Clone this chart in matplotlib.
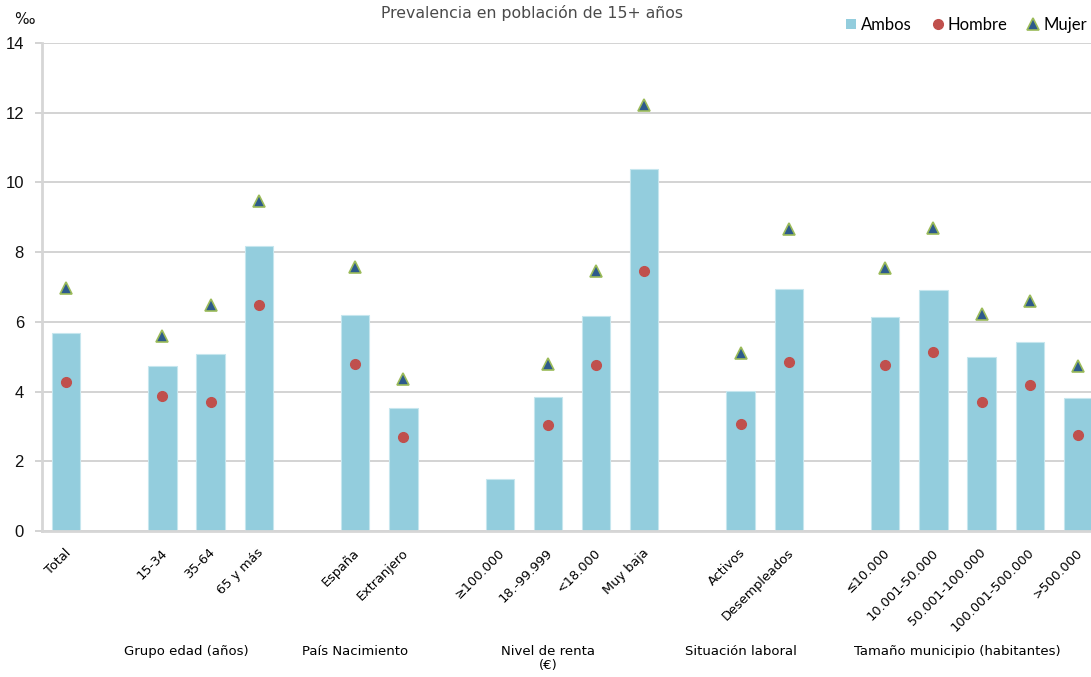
import numpy as np
import matplotlib
matplotlib.use("Agg")
import matplotlib.pyplot as plt
from matplotlib.lines import Line2D
from matplotlib.patches import Patch
import matplotlib.transforms as mtransforms

# groups of categories (an empty slot is left before every group except the first)
group_names = ["", "Grupo edad (años)", "País Nacimiento", "Nivel de renta\n(€)",
               "Situación laboral", "Tamaño municipio (habitantes)"]
group_members = [
    ["Total"],
    ["15-34", "35-64", "65 y más"],
    ["España", "Extranjero"],
    ["≥100.000", "18.-99.999", "<18.000", "Muy baja"],
    ["Activos", "Desempleados"],
    ["≤10.000", "10.001-50.000", "50.001-100.000", "100.001-500.000", ">500.000"],
]

# prevalencia (por mil)
ambos = [5.68, 4.73, 5.08, 8.18, 6.21, 3.53, 1.48, 3.84, 6.17, 10.38,
         4.02, 6.95, 6.14, 6.92, 5.00, 5.43, 3.82]
hombre = [4.28, 3.87, 3.71, 6.49, 4.78, 2.69, np.nan, 3.04, 4.77, 7.47,
          3.08, 4.86, 4.77, 5.13, 3.69, 4.20, 2.75]
mujer = [6.97, 5.60, 6.47, 9.48, 7.58, 4.35, np.nan, 4.78, 7.45, 12.21,
         5.12, 8.67, 7.54, 8.68, 6.22, 6.60, 4.74]

yticks = [0, 2, 4, 6, 8, 10, 12, 14]

# build the category axis with blank slots between groups
categories = []
group_span = []
for gi, members in enumerate(group_members):
    start = len(categories)
    if gi > 0:
        categories.append("")
    categories.extend(members)
    group_span.append((start, len(categories) - 1))

val_a, val_h, val_m = [], [], []
k = 0
for c in categories:
    if c == "":
        val_a.append(np.nan); val_h.append(np.nan); val_m.append(np.nan)
    else:
        val_a.append(ambos[k]); val_h.append(hombre[k]); val_m.append(mujer[k])
        k += 1

x = np.arange(len(categories))

fig = plt.figure(figsize=(10.91, 6.77), dpi=100)
ax = fig.add_axes([42 / 1091, 146 / 677, 1060 / 1091, 488 / 677])

ax.bar(x, val_a, width=0.59, color="#93CDDD", edgecolor="#C6E6EE", linewidth=0.8, zorder=2)
ax.plot(x, val_h, linestyle="none", marker="o", markersize=7, color="#C0504D", zorder=3)
ax.plot(x, val_m, linestyle="none", marker="^", markersize=8, markerfacecolor="#2D5A8C",
        markeredgecolor="#9BBB59", markeredgewidth=1.2, zorder=3)

ax.set_xlim(-0.5, len(categories) - 0.5)
ax.set_ylim(0, 14)
ax.set_yticks(yticks)
ax.set_yticklabels([str(t) for t in yticks], fontsize=12,
                   family=["Liberation Sans Narrow", "Liberation Sans"], color="#111111")
ax.yaxis.grid(True, color="#C8C8C8", linewidth=1.1, zorder=0)
ax.set_axisbelow(True)
ax.tick_params(axis="y", length=5, color="#C8C8C8", width=1.1, pad=8)

ax.set_xticks(x)
ax.set_xticklabels(categories, rotation=45, ha="right", rotation_mode="anchor",
                   fontsize=9.3, family="DejaVu Sans", color="#000000")
ax.tick_params(axis="x", length=0, pad=8)
shift = mtransforms.ScaledTranslation(-2 / 100, -4 / 100, fig.dpi_scale_trans)
for lab in ax.get_xticklabels():
    lab.set_transform(lab.get_transform() + shift)

for s in ["top", "right"]:
    ax.spines[s].set_visible(False)
ax.spines["left"].set_color("#D6D6D6")
ax.spines["left"].set_linewidth(2)
ax.spines["bottom"].set_color("#D6D6D6")
ax.spines["bottom"].set_linewidth(2)

# group labels under the categories
trans = mtransforms.blended_transform_factory(ax.transData, fig.transFigure)
for name, (a, b) in zip(group_names, group_span):
    if name:
        ax.text((a + b) / 2, 1 - 645 / 677, name, transform=trans, ha="center", va="top",
                fontsize=9.5, family="DejaVu Sans", color="#000000", linespacing=1.15)

fig.text(532 / 1091, 1 - 13 / 677, "Prevalencia en población de 15+ años", ha="center",
         va="center", fontsize=11.3, family="DejaVu Sans", color="#4a4a4a")
fig.text(24 / 1091, 1 - 19 / 677, "‰", ha="center", va="center", fontsize=11,
         family="DejaVu Sans", color="#111111")

handles = [
    Patch(facecolor="#93CDDD", edgecolor="none"),
    Line2D([], [], linestyle="none", marker="o", markersize=7, color="#C0504D"),
    Line2D([], [], linestyle="none", marker="^", markersize=8, markerfacecolor="#2D5A8C",
           markeredgecolor="#9BBB59", markeredgewidth=1.2),
]
fig.legend(handles, ["Ambos", "Hombre", "Mujer"], loc="center left",
           bbox_to_anchor=(846 / 1091, 1 - 25 / 677), ncol=3, frameon=False,
           prop={"family": "Lato", "size": 12}, handlelength=0.6, handleheight=0.6,
           handletextpad=0.3, columnspacing=1.25, borderpad=0, borderaxespad=0)

fig.savefig("out.png", dpi=100)
